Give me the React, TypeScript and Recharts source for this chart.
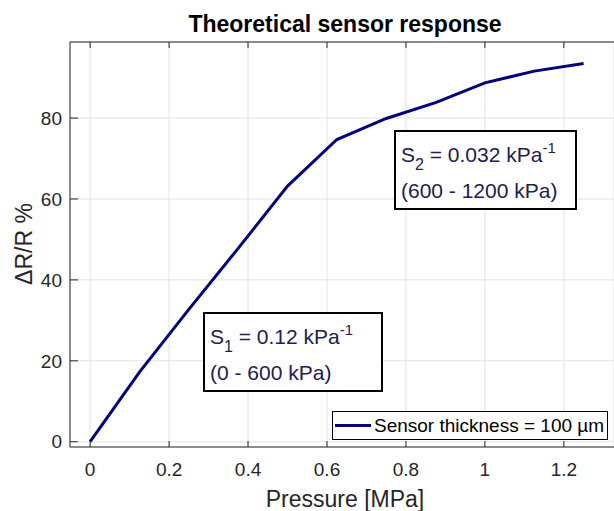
import React from 'react';
import { LineChart, Line, XAxis, YAxis, CartesianGrid } from 'recharts';

const pressure = [0, 0.125, 0.25, 0.375, 0.5, 0.625, 0.75, 0.875, 1.0, 1.125, 1.25];
const response = [0, 17.2, 32.7, 47.8, 63.2, 74.7, 79.9, 83.8, 88.7, 91.6, 93.5];
const xTicks = [0, 0.2, 0.4, 0.6, 0.8, 1, 1.2];
const yTicks = [0, 20, 40, 60, 80];
const seriesName = 'Sensor thickness = 100 µm';

const data = pressure.map((p, i) => ({ p, r: response[i] }));

const FONT = '"Liberation Sans", Arial, Helvetica, sans-serif';
const AXIS = '#262626';
const NAVY = '#000080';
const NOTE = '#202050';

const noteBox: React.CSSProperties = {
  position: 'absolute',
  boxSizing: 'border-box',
  border: '2px solid #000',
  background: '#fff',
  fontFamily: FONT,
  fontSize: 21,
  color: NOTE,
  padding: '5px 5px',
  lineHeight: '36px',
  whiteSpace: 'nowrap',
};

const subStyle: React.CSSProperties = { fontSize: 16, position: 'relative', top: 8, lineHeight: 0 };
const supStyle: React.CSSProperties = { fontSize: 15, position: 'relative', top: -9, lineHeight: 0 };

const App = () => {
  return (
    <div style={{ position: 'absolute', left: 0, top: 0, width: 614, height: 511, background: '#fff', overflow: 'hidden' }}>
      <div style={{ position: 'absolute', left: 0, width: 690, top: 11, lineHeight: '26px', textAlign: 'center', fontFamily: FONT, fontWeight: 'bold', fontSize: 23, color: '#000' }}>
        Theoretical sensor response
      </div>
      <LineChart width={614} height={511} data={data} margin={{ top: 41, right: 0, bottom: 24, left: 0 }}>
        <CartesianGrid stroke="#e2e2e2" strokeWidth={1} />
        <XAxis
          dataKey="p"
          type="number"
          domain={[-0.051, 1.327]}
          ticks={xTicks}
          allowDataOverflow
          height={40}
          tickSize={-6}
          tickMargin={22}
          stroke={AXIS}
          tick={{ fill: AXIS, fontSize: 19, fontFamily: FONT }}
          tickFormatter={(v: number) => String(v)}
        />
        <XAxis
          xAxisId="top"
          orientation="top"
          dataKey="p"
          type="number"
          domain={[-0.051, 1.327]}
          ticks={xTicks}
          allowDataOverflow
          height={1}
          tickSize={-6}
          stroke={AXIS}
          tickFormatter={() => ''}
        />
        <YAxis
          type="number"
          domain={[-1.3, 98.8]}
          ticks={yTicks}
          allowDataOverflow
          width={70}
          tickSize={-8}
          tickMargin={16}
          stroke={AXIS}
          tick={{ fill: AXIS, fontSize: 19, fontFamily: FONT }}
        />
        <Line
          dataKey="r"
          name={seriesName}
          stroke={NAVY}
          strokeWidth={3}
          dot={false}
          isAnimationActive={false}
        />
      </LineChart>
      <div style={{ position: 'absolute', left: 0, width: 690, top: 486, lineHeight: '26px', textAlign: 'center', fontFamily: FONT, fontSize: 23, color: AXIS }}>
        Pressure [MPa]
      </div>
      <div style={{ position: 'absolute', left: 24, top: 244, lineHeight: '26px', transform: 'translate(-50%, -50%) rotate(-90deg)', whiteSpace: 'nowrap', fontFamily: FONT, fontSize: 23, color: AXIS }}>
        ΔR/R %
      </div>
      <div style={{ ...noteBox, left: 203, top: 312, width: 180, height: 80 }}>
        <div>S<span style={subStyle}>1</span> = 0.12 kPa<span style={supStyle}>-1</span></div>
        <div>(0 - 600 kPa)</div>
      </div>
      <div style={{ ...noteBox, left: 394, top: 130, width: 183, height: 80 }}>
        <div>S<span style={subStyle}>2</span> = 0.032 kPa<span style={supStyle}>-1</span></div>
        <div>(600 - 1200 kPa)</div>
      </div>
      <div style={{ position: 'absolute', left: 332, top: 411, width: 276, height: 29, boxSizing: 'border-box', border: '1px solid #000', background: '#fff', display: 'flex', alignItems: 'center', fontFamily: FONT, fontSize: 19, color: '#000', whiteSpace: 'nowrap' }}>
        <span style={{ display: 'inline-block', width: 36, height: 3, background: NAVY, marginLeft: 2, marginRight: 3 }} />
        <span>{seriesName}</span>
      </div>
    </div>
  );
};

export default App;
